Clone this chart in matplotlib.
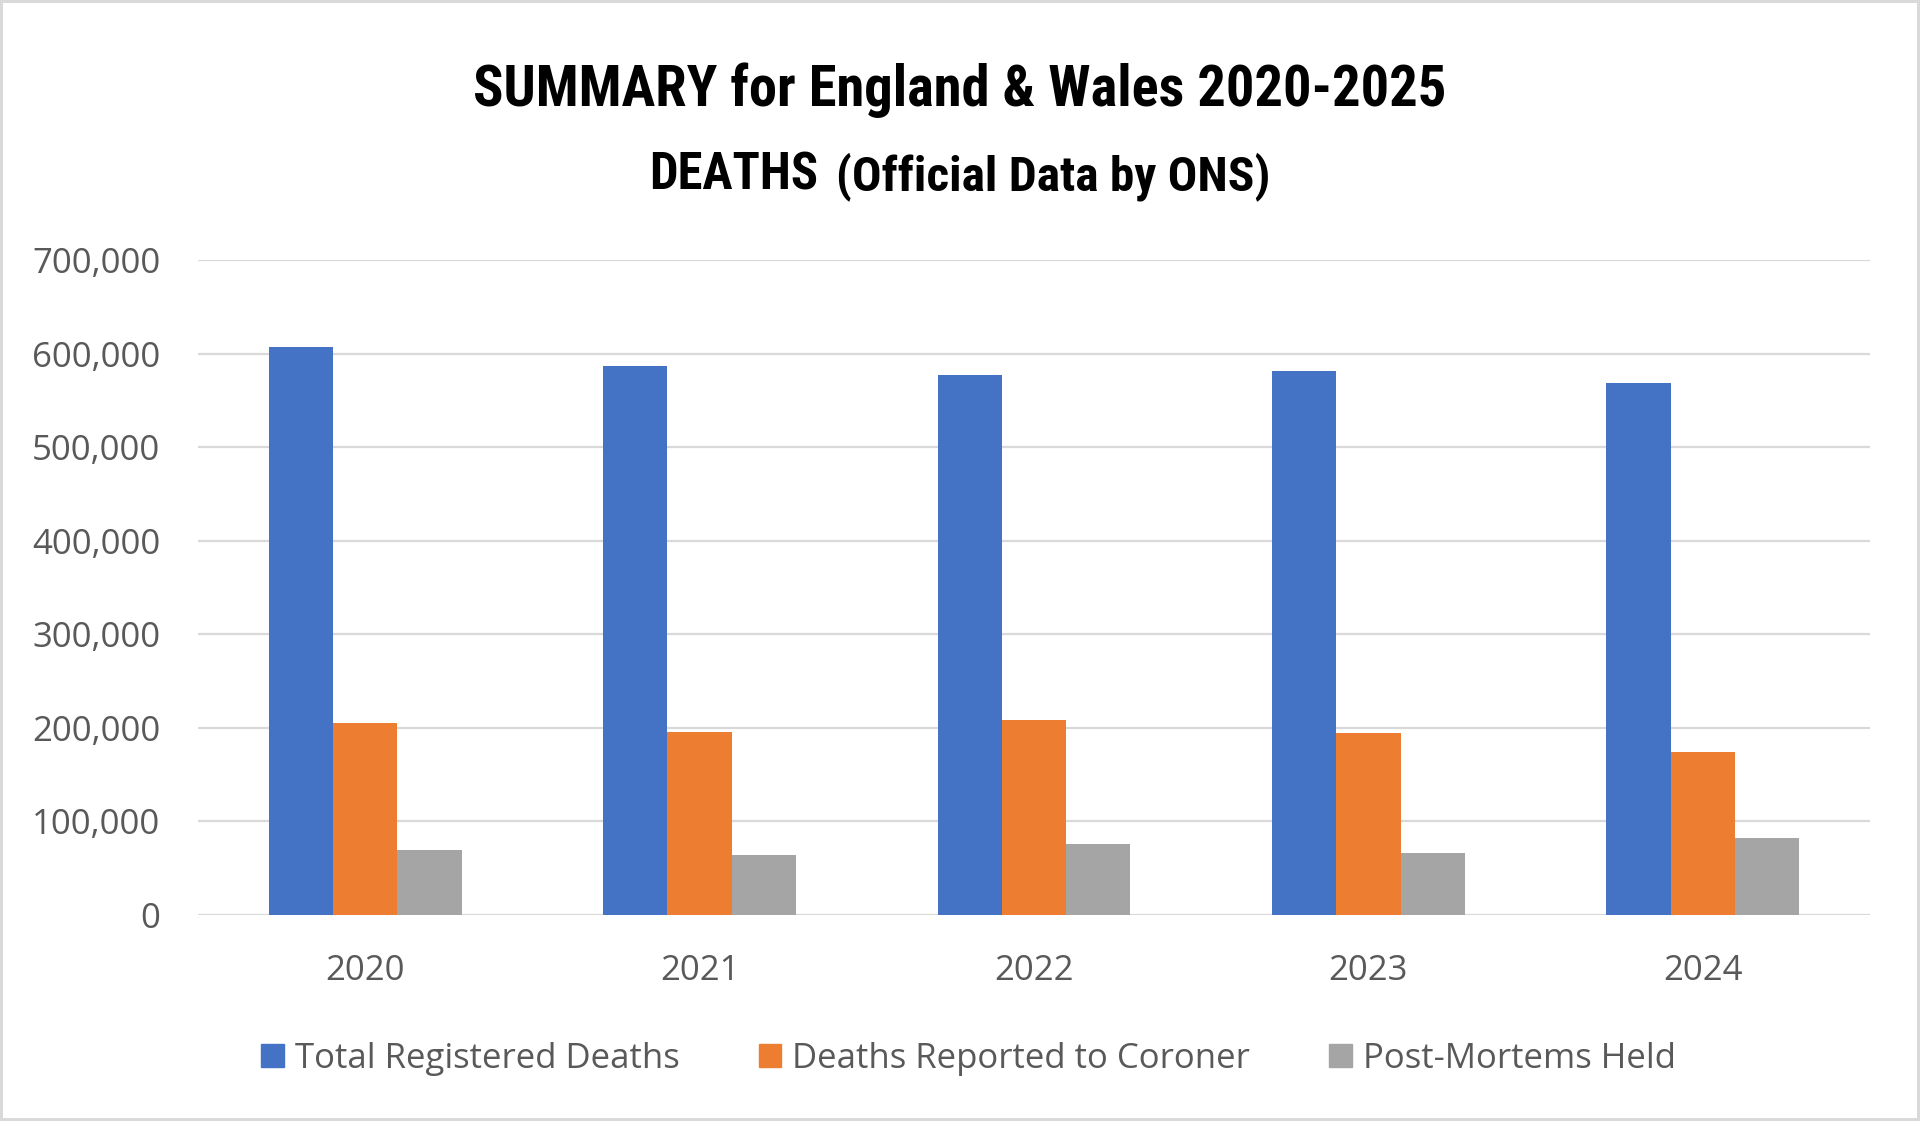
import os
import matplotlib
matplotlib.use("Agg")
import matplotlib.pyplot as plt
from matplotlib import font_manager as fm
from matplotlib.patches import Patch, Rectangle
from matplotlib.ticker import FuncFormatter, MultipleLocator
import numpy as np

# values
years = ["2020", "2021", "2022", "2023", "2024"]
total_deaths = [607500, 586700, 577500, 581700, 568700]
coroner = [205300, 195100, 208400, 195000, 174000]
post_mortems = [69800, 63600, 75600, 66400, 82000]
series_names = ["Total Registered Deaths", "Deaths Reported to Coroner", "Post-Mortems Held"]
colors = ["#4472C4", "#ED7D31", "#A5A5A5"]

title_1 = "SUMMARY for England & Wales 2020-2025"
title_2a = "DEATHS"
title_2b = "(Official Data by ONS)"

W, H = 1920, 1121

# condensed bold font for the title, whatever is around
cond_prefs = ["RobotoCondensed-Bold.", "NotoSans-ExtraCondensedBold.", "NotoSans-CondensedBold.",
              "LiberationSansNarrow-Bold.", "DejaVuSansCondensed-Bold.", "DejaVuSans-Bold."]
title_font = None
for pref in cond_prefs:
    for f in fm.fontManager.ttflist:
        if os.path.basename(f.fname).startswith(pref):
            title_font = fm.FontProperties(fname=f.fname)
            break
    if title_font is not None:
        break
if title_font is None:
    title_font = fm.FontProperties(family="DejaVu Sans", weight="bold")

names = {f.name for f in fm.fontManager.ttflist}
body = "Open Sans" if "Open Sans" in names else "DejaVu Sans"
plt.rcParams["font.family"] = [body, "DejaVu Sans"]

fig = plt.figure(figsize=(W / 100, H / 100), dpi=100)
fig.patches.append(Rectangle((0, 0), 1, 1, transform=fig.transFigure, fill=False,
                             edgecolor="#D9D9D9", lw=4.3, zorder=10))

ax = fig.add_axes([198 / W, 1 - 915 / H, 1672 / W, 655 / H])
x = np.arange(len(years))
bw = 0.192
for i, (vals, c, name) in enumerate(zip([total_deaths, coroner, post_mortems], colors, series_names)):
    ax.bar(x + (i - 1) * bw, vals, bw, color=c, label=name, zorder=3)

ax.set_xlim(-0.5, 4.5)
ax.set_ylim(0, 700000)
ax.yaxis.set_major_locator(MultipleLocator(100000))
ax.yaxis.set_major_formatter(FuncFormatter(lambda v, p: f"{int(v):,}"))
ax.set_axisbelow(True)
ax.grid(axis="y", color="#D9D9D9", lw=1.6)
for s in ax.spines.values():
    s.set_visible(False)
ax.set_xticks(x, years)
ax.tick_params(axis="both", length=0, labelsize=25, labelcolor="#595959")
ax.tick_params(axis="y", pad=27)
ax.tick_params(axis="x", pad=28)

handles = [Patch(color=c) for c in colors]
fig.legend(handles, series_names, loc="center", bbox_to_anchor=(968.5 / W, 1 - 1059 / H),
           ncol=3, frameon=False, fontsize=25, handlelength=0.65, handleheight=0.65,
           handletextpad=0.32, columnspacing=2.28, labelcolor="#595959")

# title: size each piece so it spans the same width as in the original
renderer = fig.canvas.get_renderer()


def fit_text(s, left, right, baseline, start=40):
    t = fig.text(left / W, 1 - baseline / H, s, fontproperties=title_font.copy(),
                 fontsize=start, ha="left", va="baseline", color="black")
    wpx = t.get_window_extent(renderer=renderer).width
    t.set_fontsize(start * (right - left) / wpx)
    return t


fit_text(title_1, 473, 1446, 106)
fit_text(title_2a, 649, 818, 190)
fit_text(title_2b, 836, 1270, 190)

fig.savefig("out.png", dpi=100, facecolor="white")
